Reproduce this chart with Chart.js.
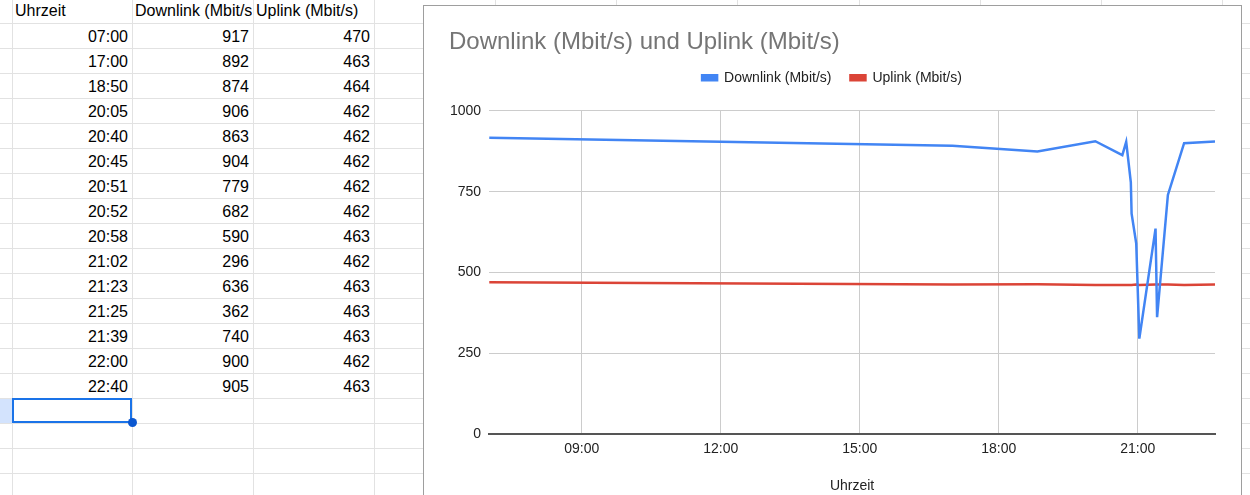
<!DOCTYPE html>
<html>
<head>
<meta charset="utf-8">
<script src="https://cdn.jsdelivr.net/npm/chart.js@4.4.1/dist/chart.umd.min.js"></script>
<style>
  body { margin: 0; width: 1250px; height: 495px; overflow: hidden; background: #fff; position: relative;
         font-family: "Liberation Sans", Arial, sans-serif; }
  .vl { position: absolute; top: 0; width: 1px; height: 495px; background: #e2e2e2; }
  .hl { position: absolute; left: 0; height: 1px; width: 1250px; background: #e2e2e2; }
  .cell { position: absolute; height: 25px; line-height: 25px; font-size: 16px; color: #000;
          white-space: nowrap; overflow: hidden; }
  .num { text-align: right; }
  #rowsel { position: absolute; left: 0; top: 398px; width: 12px; height: 25px; background: #d3e3fd; }
  #cellsel { position: absolute; left: 12px; top: 398px; width: 116px; height: 21px; border: 2px solid #1a73e8; }
  #handle { position: absolute; left: 128px; top: 418px; width: 9px; height: 9px; border-radius: 50%; background: #0b57d0; }
  #box { position: absolute; left: 423px; top: 5px; width: 817px; height: 520px; background: #fff;
         border: 1px solid #9e9e9e; }
  #chart { position: absolute; left: 0; top: 0; }
</style>
</head>
<body>
<div id="rowsel"></div>
<div id="box"><canvas id="chart" width="817" height="489"></canvas></div>
<div id="cellsel"></div>
<div id="handle"></div>
<script>
// sheet data
const headers = ['Uhrzeit', 'Downlink (Mbit/s)', 'Uplink (Mbit/s)'];
const times = ['07:00', '17:00', '18:50', '20:05', '20:40', '20:45', '20:51', '20:52', '20:58', '21:02', '21:23', '21:25', '21:39', '22:00', '22:40'];
const downlink = [917, 892, 874, 906, 863, 904, 779, 682, 590, 296, 636, 362, 740, 900, 905];
const uplink = [470, 463, 464, 462, 462, 462, 462, 462, 463, 462, 463, 463, 463, 462, 463];
const xTickLabels = ['09:00', '12:00', '15:00', '18:00', '21:00'];
const yTickValues = [0, 250, 500, 750, 1000];

const toMin = t => { const p = t.split(':'); return +p[0] * 60 + +p[1]; };
const fmt = m => String(Math.floor(m / 60)).padStart(2, '0') + ':' + String(m % 60).padStart(2, '0');

// spreadsheet grid
const colX = [12, 132, 253, 374, 495, 616, 737, 859, 980, 1101, 1222];
const box = document.getElementById('box');
colX.forEach(x => {
    const d = document.createElement('div');
    d.className = 'vl';
    d.style.left = x + 'px';
    document.body.insertBefore(d, box);
});
for (let y = 23; y < 495; y += 25) {
    const d = document.createElement('div');
    d.className = 'hl';
    d.style.top = y + 'px';
    document.body.insertBefore(d, box);
}

function addCell(text, col, row, right) {
    const d = document.createElement('div');
    d.className = 'cell' + (right ? ' num' : '');
    d.textContent = text;
    d.style.left = (colX[col] + 3) + 'px';
    d.style.width = (colX[col + 1] - colX[col] - (right ? 7 : 4)) + 'px';
    d.style.top = (row * 25 - 2 + (row ? 1 : 0)) + 'px';
    document.body.insertBefore(d, box);
}
headers.forEach((h, i) => addCell(h, i, 0, false));
times.forEach((t, i) => {
    addCell(t, 0, i + 1, true);
    addCell(String(downlink[i]), 1, i + 1, true);
    addCell(String(uplink[i]), 2, i + 1, true);
});

// chart
Chart.defaults.font.family = '"Liberation Sans", Arial, sans-serif';

const legendSpacer = {
    id: 'legendSpacer',
    beforeInit(chart) {
        const origFit = chart.legend.fit;
        chart.legend.fit = function () { origFit.call(this); this.height += 16; };
    }
};

const ctx = document.getElementById('chart').getContext('2d');
const speedChart = new Chart(ctx, {
    type: 'line',
    data: {
        datasets: [{
            label: headers[1],
            data: times.map((t, i) => ({ x: toMin(t), y: downlink[i] })),
            borderColor: '#4285f4',
            backgroundColor: '#4285f4',
            borderWidth: 2.5,
            pointRadius: 0,
            tension: 0
        }, {
            label: headers[2],
            data: times.map((t, i) => ({ x: toMin(t), y: uplink[i] })),
            borderColor: '#db4437',
            backgroundColor: '#db4437',
            borderWidth: 2.5,
            pointRadius: 0,
            tension: 0
        }]
    },
    options: {
        responsive: false,
        animation: false,
        layout: { padding: { left: 25, right: 26, top: 0, bottom: 0 } },
        plugins: {
            title: {
                display: true,
                text: headers[1] + ' und ' + headers[2],
                align: 'start',
                color: '#757575',
                font: { size: 24, weight: 'normal' },
                padding: { top: 22, bottom: -5 }
            },
            legend: {
                labels: {
                    boxWidth: 15,
                    boxHeight: 5,
                    padding: 19,
                    color: '#222',
                    font: { size: 14 }
                }
            },
            tooltip: { enabled: false }
        },
        scales: {
            x: {
                type: 'linear',
                min: toMin(times[0]),
                max: toMin(times[times.length - 1]),
                afterBuildTicks: s => { s.ticks = xTickLabels.map(l => ({ value: toMin(l) })); },
                ticks: { callback: v => fmt(v), color: '#222', font: { size: 14 }, padding: 6, maxRotation: 0 },
                grid: { color: '#cccccc', drawTicks: false },
                border: { color: '#555', width: 2 },
                title: { display: true, text: headers[0], color: '#222', font: { size: 14 }, padding: { top: 15, bottom: 0 } }
            },
            y: {
                min: 0,
                max: 1000,
                afterBuildTicks: s => { s.ticks = yTickValues.map(v => ({ value: v })); },
                afterFit: s => { s.width -= 7; },
                ticks: { callback: v => String(v), color: '#222', font: { size: 14 }, padding: 8 },
                grid: { color: '#cccccc', drawTicks: false },
                border: { display: false }
            }
        }
    },
    plugins: [legendSpacer]
});
</script>
</body>
</html>
